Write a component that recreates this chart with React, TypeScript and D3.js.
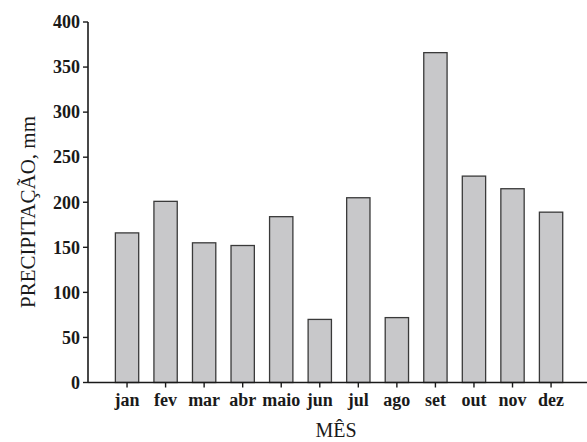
import React from "react";
import * as d3 from "d3";

const months = ["jan", "fev", "mar", "abr", "maio", "jun", "jul", "ago", "set", "out", "nov", "dez"];
const precip = [166, 201, 155, 152, 184, 70, 205, 72, 366, 229, 215, 189];
const yTicks = [0, 50, 100, 150, 200, 250, 300, 350, 400];

const W = 587;
const H = 442;
const x0 = 88;
const x1 = 587;
const yBottom = 382.5;
const yTop = 22;
const serif = "'Liberation Serif', 'Times New Roman', serif";

export default function App() {
  const x = d3
    .scaleBand<string>()
    .domain(months)
    .range([x0, x1])
    .paddingInner(0.395)
    .paddingOuter(0.67)
    .align(0.53);
  const y = d3.scaleLinear().domain([0, 400]).range([yBottom, yTop]);

  return (
    <svg
      width={W}
      height={H}
      style={{ position: "absolute", left: 0, top: 0, background: "#fff" }}
    >
      {months.map((m, i) => (
        <rect
          key={m}
          x={x(m)}
          y={y(precip[i])}
          width={x.bandwidth()}
          height={y(0) - y(precip[i])}
          fill="#c8c8ca"
          stroke="#3a3a3a"
          strokeWidth={1.3}
        />
      ))}
      {/* y axis */}
      <line x1={x0} x2={x0} y1={y(400)} y2={y(0)} stroke="#1a1a1a" strokeWidth={1.6} />
      {yTicks.map((t) => (
        <g key={t}>
          <line x1={x0 - 5} x2={x0} y1={y(t)} y2={y(t)} stroke="#1a1a1a" strokeWidth={1.4} />
          <text
            x={x0 - 8}
            y={y(t)}
            dy="0.35em"
            textAnchor="end"
            fontFamily={serif}
            fontWeight="bold"
            fontSize={18}
            fill="#1a1a1a"
          >
            {t}
          </text>
        </g>
      ))}
      {/* x axis */}
      <line x1={x0} x2={x1} y1={y(0)} y2={y(0)} stroke="#1a1a1a" strokeWidth={1.6} />
      {months.map((m) => {
        const cx = (x(m) as number) + x.bandwidth() / 2;
        return (
          <g key={m}>
            <line x1={cx} x2={cx} y1={y(0)} y2={y(0) + 5} stroke="#1a1a1a" strokeWidth={1.4} />
            <text
              x={cx}
              y={406}
              textAnchor="middle"
              fontFamily={serif}
              fontWeight="bold"
              fontSize={18}
              fill="#1a1a1a"
            >
              {m}
            </text>
          </g>
        );
      })}
      <text
        x={336}
        y={437}
        textAnchor="middle"
        fontFamily={serif}
        fontSize={20}
        fill="#1a1a1a"
      >
        MÊS
      </text>
      <text
        transform="translate(35,212) rotate(-90)"
        textAnchor="middle"
        fontFamily={serif}
        fontSize={21}
        fill="#1a1a1a"
      >
        PRECIPITAÇÃO, mm
      </text>
    </svg>
  );
}
